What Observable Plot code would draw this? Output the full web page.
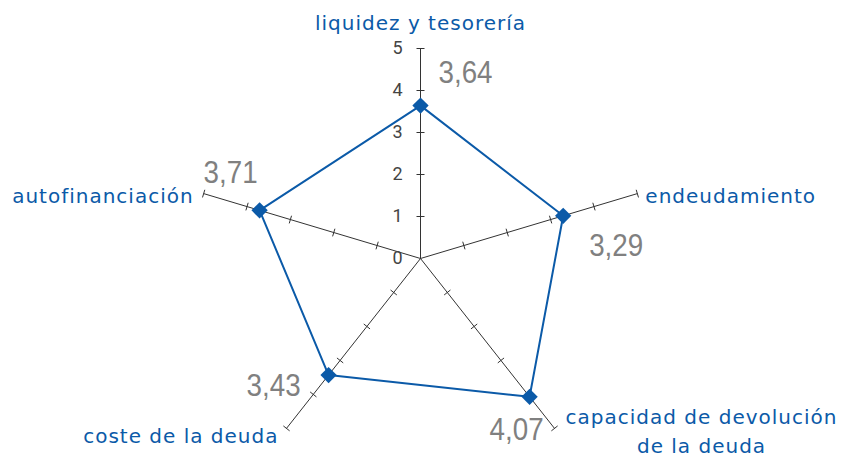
<!DOCTYPE html>
<html><head><meta charset="utf-8">
<script src="https://cdn.jsdelivr.net/npm/d3@7"></script>
<script src="https://cdn.jsdelivr.net/npm/@observablehq/plot@0.6"></script>
<style>
body{margin:0;background:#fff}
</style>
</head><body><div id="chart"></div>
<script>
const categories = ["liquidez y tesorería", "endeudamiento", "capacidad de devolución\nde la deuda", "coste de la deuda", "autofinanciación"];
const values = [3.64, 3.29, 4.07, 3.43, 3.71];
const valueLabels = ["3,64", "3,29", "4,07", "3,43", "3,71"];
const scaleTicks = [0, 1, 2, 3, 4, 5];
const maxValue = 5;

const BLUE = "#0b5aa8";
const n = categories.length;
const ang = i => i * 2 * Math.PI / n;
const X = (i, v) => v * Math.sin(ang(i));
const Y = (i, v) => v * Math.cos(ang(i));

// scale geometry
const cx = 420, cy = 258, rx = 228, ry = 210;
const sx = rx / maxValue, sy = ry / maxValue;

const idx = d3.range(n);
const spokes = idx.map(i => ({x1: 0, y1: 0, x2: X(i, maxValue), y2: Y(i, maxValue)}));

const half = 4;
const tickSegs = [];
idx.forEach(i => {
  const dxp = Math.sin(ang(i)) * sx, dyp = Math.cos(ang(i)) * sy;
  const L = Math.hypot(dxp, dyp);
  const perpX = -dyp / L, perpY = dxp / L;
  scaleTicks.filter(k => k > 0).forEach(k => {
    const x = X(i, k), y = Y(i, k);
    tickSegs.push({x1: x - perpX * half / sx, y1: y - perpY * half / sy,
                   x2: x + perpX * half / sx, y2: y + perpY * half / sy});
  });
});

const pts = idx.map(i => ({i, x: X(i, values[i]), y: Y(i, values[i]), v: values[i], label: valueLabels[i], cat: categories[i], ex: X(i, maxValue), ey: Y(i, maxValue)}));

const valueOffsets = [[45, -33], [53, 30], [-13, 33], [-55, 11], [-29, -38]];
const catLayout = [
  {dx: 0, dy: -28, anchor: "middle"},
  {dx: 8, dy: 0, anchor: "start"},
  {dx: 147, dy: 1, anchor: "middle"},
  {dx: -8, dy: 5, anchor: "end"},
  {dx: -10, dy: 0, anchor: "end"}
];

const marks = [
  Plot.link(spokes, {x1: "x1", y1: "y1", x2: "x2", y2: "y2", stroke: "#333", strokeWidth: 1}),
  Plot.link(tickSegs, {x1: "x1", y1: "y1", x2: "x2", y2: "y2", stroke: "#333", strokeWidth: 1}),
  Plot.text(scaleTicks, {x: () => 0, y: d => d, text: d => String(d), dx: -23, textAnchor: "middle",
    fill: "#444", fontSize: 18, fontFamily: "Roboto, sans-serif"}),
  Plot.line(pts, {x: "x", y: "y", curve: "linear-closed", stroke: BLUE, strokeWidth: 2}),
  Plot.dot(pts, {x: "x", y: "y", symbol: "square", rotate: 45, r: 6.5, fill: BLUE, stroke: "none"}),
  ...pts.map((p, k) => Plot.text([p], {x: "x", y: "y", text: "label", dx: valueOffsets[k][0], dy: valueOffsets[k][1],
    fill: "#808080", fontSize: 32, fontFamily: "'Liberation Sans', Arial, sans-serif", textAnchor: "middle"})),
  ...pts.map((p, k) => Plot.text([p], {x: "ex", y: "ey", text: "cat", dx: catLayout[k].dx, dy: catLayout[k].dy,
    textAnchor: catLayout[k].anchor, lineHeight: 1.47, fill: BLUE, fontSize: 20,
    fontFamily: "'DejaVu Sans', sans-serif"}))
];

const chart = Plot.plot({
  width: 843, height: 457,
  margin: 0,
  x: {domain: [-maxValue, maxValue], range: [cx - rx, cx + rx], axis: null},
  y: {domain: [-maxValue, maxValue], range: [cy + ry, cy - ry], axis: null},
  style: {overflow: "visible", background: "#fff"},
  marks
});
// condense the grey value labels, letter-space the category labels
d3.select(chart).selectAll("text").each(function () {
  const t = this.textContent;
  if (valueLabels.includes(t)) {
    this.setAttribute("textLength", 54);
    this.setAttribute("lengthAdjust", "spacingAndGlyphs");
  } else if (this.getAttribute("fill") === BLUE || this.closest("g") && this.getAttribute("font-size") === "20") {
    this.style.letterSpacing = "1px";
  }
});
d3.select(chart).selectAll("g").each(function () {
  if (this.getAttribute("font-size") === "20") d3.select(this).selectAll("text").style("letter-spacing", "1px");
});
document.getElementById("chart").appendChild(chart);
</script>
</body></html>
